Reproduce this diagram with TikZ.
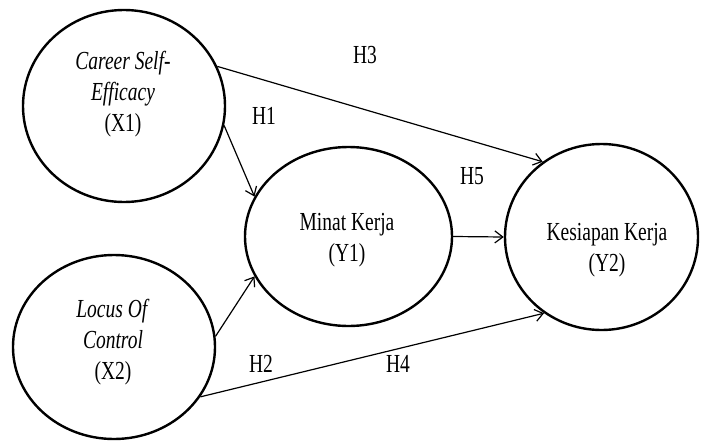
\documentclass[tikz,border=0pt]{standalone}
\usepackage{fontspec}
\setmainfont[FakeStretch=0.75]{Liberation Serif}
\usetikzlibrary{shapes.geometric, arrows.meta}

\begin{document}
\begin{tikzpicture}
    [x=1pt, y=-1pt, font=\fontsize{26}{31}\selectfont,
     construct/.style={ellipse, draw, line width=2.4pt, inner sep=0pt},
     link/.style={line width=1.2pt, -{Straight Barb[length=8pt,width=12pt]}}]
    \useasboundingbox (0,0) rectangle (701,442);
    \node[construct, minimum width=202pt, minimum height=192pt] (x1) at (124,106) {};
    \node[construct, minimum width=202pt, minimum height=184pt] (x2) at (114,347) {};
    \node[construct, minimum width=207pt, minimum height=179pt] (y1) at (348.5,236.5) {};
    \node[construct, minimum width=193pt, minimum height=186pt] (y2) at (601.5,237) {};
    % text
    \node[align=center] (x1txt) at (123,94) {\textit{Career Self-}\\\textit{Efficacy}\\(X1)};
    \node[align=center] (x2txt) at (113,342) {\textit{Locus Of}\\\textit{Control}\\(X2)};
    \node[align=center] (y1txt) at (347,240) {Minat Kerja\\(Y1)};
    \node[align=center] (y2txt) at (607,250) {Kesiapan Kerja\\(Y2)};
    % paths
    \draw[link] (x1.23.8) -- (y2.128.8);
    \draw[link] (x1.349.1) -- (y1.157.1);
    \draw[link] (x2.6.8) -- (y1.203.5);
    \draw[link] (x2.330.4) -- (y2.233.4);
    \draw[link] (y1.east) -- (y2.west);
    \node (h1) at (264,116) {H1};
    \node (h2) at (261,364) {H2};
    \node (h3) at (365,55) {H3};
    \node (h4) at (398,364) {H4};
    \node (h5) at (472,176) {H5};
\end{tikzpicture}
\end{document}
